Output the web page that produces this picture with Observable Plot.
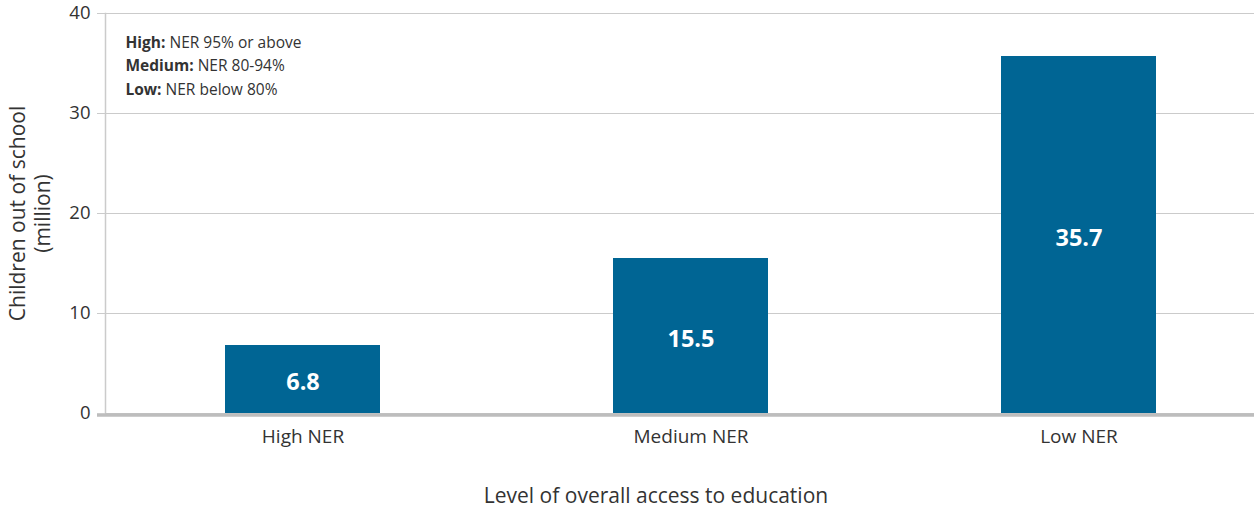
<!DOCTYPE html>
<html>
<head>
<meta charset="utf-8">
<script src="https://cdn.jsdelivr.net/npm/d3@7"></script>
<script src="https://cdn.jsdelivr.net/npm/@observablehq/plot@0.6"></script>
<style>
  html, body { margin: 0; padding: 0; background: #fff; }
  #chart svg { display: block; }
</style>
</head>
<body>
<div id="chart"></div>
<script>
const categories = ["High NER", "Medium NER", "Low NER"];
const values = [6.8, 15.5, 35.7];
const yTicks = [0, 10, 20, 30, 40];
const legendBold = ["High:", "Medium:", "Low:"];
const legendRest = ["NER 95% or above", "NER 80-94%", "NER below 80%"];
const yTitle = "Children out of school\n(million)";
const xTitle = "Level of overall access to education";

const data = categories.map((c, i) => ({category: c, value: values[i]}));
const legendText = legendBold.map((b, i) => b + " " + legendRest[i]).join("\n");

const BAR = "#006594";
const GRID = "#cbcbcb";
const TEXT = "#333333";
const FONT = "'Open Sans', 'Noto Sans', sans-serif";

const chart = Plot.plot({
  width: 1254,
  height: 508,
  marginLeft: 105,
  marginRight: 0,
  marginTop: 13,
  marginBottom: 95,
  style: {fontFamily: FONT, background: "#fff", color: TEXT},
  x: {domain: categories, range: [105, 1276], paddingInner: 0.6, paddingOuter: 0.306, label: null},
  y: {domain: [0, 40], label: null},
  marks: [
    Plot.gridY(yTicks, {stroke: GRID, strokeOpacity: 1, strokeWidth: 1.2}),
    Plot.frame({anchor: "left", stroke: GRID, strokeWidth: 1.5}),
    Plot.barY(data, {x: "category", y: "value", fill: BAR}),
    Plot.ruleY([0], {stroke: "#bdbdbd", strokeWidth: 3.5, insetLeft: -8, dy: 1.5}),
    Plot.axisY({ticks: yTicks, tickSize: 8, tickPadding: 7, stroke: GRID, fill: TEXT, fontSize: 18.5, label: null}),
    Plot.axisX({tickSize: 0, tickPadding: 16, fill: TEXT, fontSize: 19, label: null}),
    Plot.text(data, {
      x: "category", y: d => d.value / 2, text: d => d.value.toFixed(1),
      fill: "white", fontWeight: "bold", fontSize: 23.5, dy: 3
    }),
    Plot.text([yTitle], {
      frameAnchor: "left", text: d => d, rotate: -90, dx: -76, textAnchor: "middle",
      fontSize: 21, lineHeight: 1.18, fill: TEXT
    }),
    Plot.text([xTitle], {
      frameAnchor: "bottom", text: d => d, dx: -24, dy: 89,
      fontSize: 21, fill: TEXT
    }),
    Plot.text([legendText], {
      frameAnchor: "top-left", text: d => d, dx: 20, dy: 18,
      lineAnchor: "top", textAnchor: "start", lineHeight: 1.5, fontSize: 15.5, fill: TEXT,
      render(index, scales, vals, dims, ctx, next) {
        const g = next(index, scales, vals, dims, ctx);
        d3.select(g).selectAll("text > tspan").each(function(d, i) {
          this.textContent = "";
          const s = d3.select(this);
          s.append("tspan").attr("font-weight", "bold").text(legendBold[i]);
          s.append("tspan").text(" " + legendRest[i]);
        });
        return g;
      }
    })
  ]
});
document.getElementById("chart").appendChild(chart);
</script>
</body>
</html>
